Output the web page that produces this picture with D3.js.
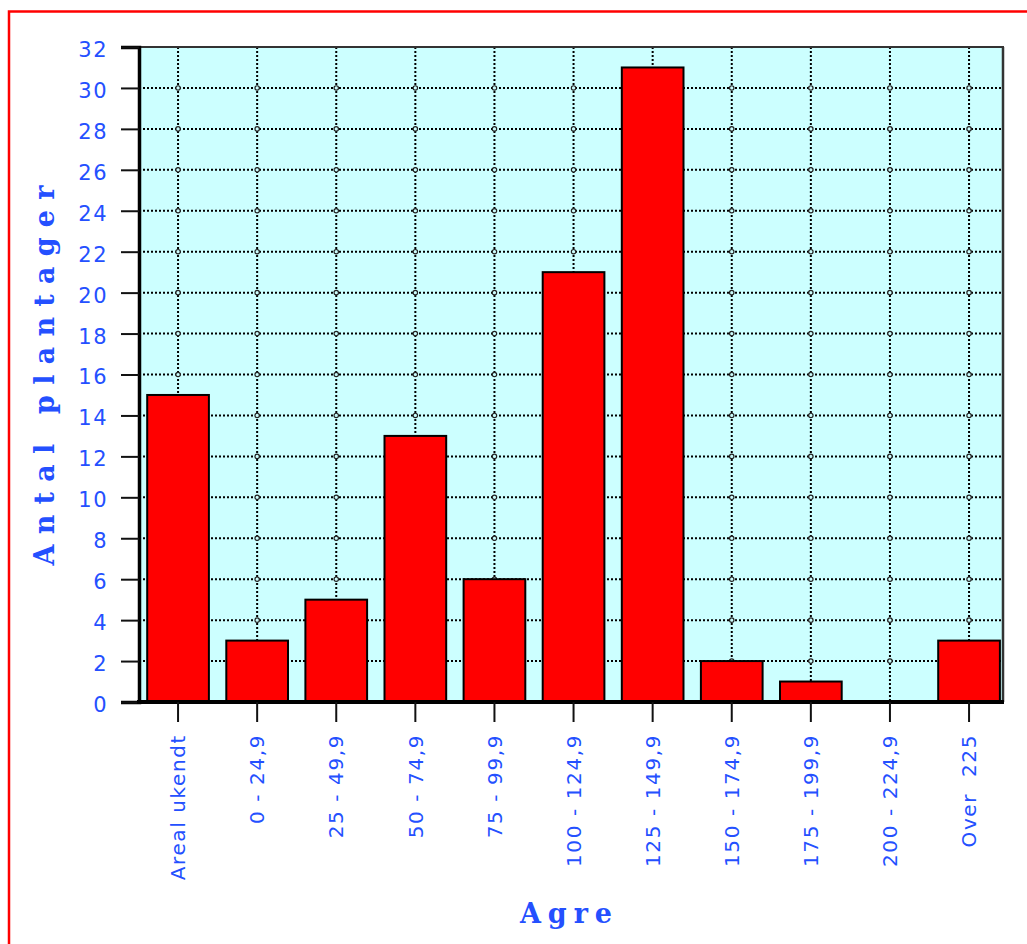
<!DOCTYPE html>
<html>
<head>
<meta charset="utf-8">
<script src="https://cdn.jsdelivr.net/npm/d3@7"></script>
<style>
  html, body { margin: 0; padding: 0; background: #ffffff; }
  svg { display: block; }
</style>
</head>
<body>
<svg id="chart" width="1027" height="944"></svg>
<script>
// ---- data ----
const categories = ["Areal ukendt", "0 - 24,9", "25 - 49,9", "50 - 74,9", "75 - 99,9",
  "100 - 124,9", "125 - 149,9", "150 - 174,9", "175 - 199,9", "200 - 224,9", "Over  225"];
const values = [15, 3, 5, 13, 6, 21, 31, 2, 1, 0, 3];
const yTicks = d3.range(0, 33, 2);
const yTitle = "Antal plantager";
const xTitle = "Agre";

// ---- layout ----
const svg = d3.select("#chart");
const plot = { left: 139, right: 1003, top: 47, bottom: 702 };
const blue = "#2450ff";

const x = d3.scaleBand().domain(categories).range([138.5, 1008.6]).paddingInner(0.22).paddingOuter(0.11);
const y = d3.scaleLinear().domain([0, 32]).range([plot.bottom, plot.top]);
const cx = d => x(d) + x.bandwidth() / 2;

// red outer frame
svg.append("rect").attr("x", 9).attr("y", 11.5).attr("width", 1100).attr("height", 1100)
  .attr("fill", "none").attr("stroke", "#ff0000").attr("stroke-width", 2.5);

// plot background
svg.append("rect").attr("x", plot.left).attr("y", plot.top)
  .attr("width", plot.right - plot.left).attr("height", plot.bottom - plot.top)
  .attr("fill", "#ccffff");

// grid lines
const inner = yTicks.filter(t => t > 0 && t < 32);
const grid = svg.append("g").attr("stroke", "#000").attr("stroke-width", 2).attr("stroke-dasharray", "2,2");
grid.selectAll("line.h").data(inner).join("line")
  .attr("x1", plot.left).attr("x2", plot.right)
  .attr("y1", d => y(d)).attr("y2", d => y(d));
grid.selectAll("line.v").data(categories).join("line")
  .attr("x1", d => cx(d)).attr("x2", d => cx(d))
  .attr("y1", plot.top).attr("y2", plot.bottom);

// small circles at grid intersections
const inter = [];
categories.forEach(c => inner.forEach(t => inter.push([c, t])));
svg.append("g").selectAll("circle").data(inter).join("circle")
  .attr("cx", d => cx(d[0])).attr("cy", d => y(d[1])).attr("r", 2.2)
  .attr("fill", "#ccffff").attr("stroke", "#222").attr("stroke-width", 1.2);

// bars
svg.append("g").selectAll("rect").data(categories.map((c, i) => ({ c, v: values[i] })).filter(d => d.v > 0))
  .join("rect")
  .attr("x", d => x(d.c)).attr("width", x.bandwidth())
  .attr("y", d => y(d.v)).attr("height", d => y(0) - y(d.v))
  .attr("fill", "#ff0000").attr("stroke", "#000").attr("stroke-width", 2);

// plot frame (top and right)
svg.append("line").attr("x1", plot.left).attr("x2", plot.right + 1).attr("y1", plot.top).attr("y2", plot.top)
  .attr("stroke", "#333").attr("stroke-width", 2);
svg.append("line").attr("x1", plot.right).attr("x2", plot.right).attr("y1", plot.top).attr("y2", plot.bottom)
  .attr("stroke", "#333").attr("stroke-width", 2.5);

// y axis
const yAxis = svg.append("g").attr("transform", `translate(${plot.left},0)`)
  .call(d3.axisLeft(y).tickValues(yTicks).tickSize(18).tickPadding(13).tickFormat(d3.format("d")));
yAxis.select(".domain").attr("stroke", "#000").attr("stroke-width", 3.5);
yAxis.selectAll(".tick line").attr("stroke", "#111").attr("stroke-width", 2);
yAxis.selectAll(".tick text").attr("fill", blue)
  .attr("font-family", "DejaVu Sans, sans-serif").attr("font-size", 21)
  .attr("letter-spacing", 1.5).attr("dy", "0.45em");

// x axis
const xAxis = svg.append("g").attr("transform", `translate(0,${plot.bottom})`)
  .call(d3.axisBottom(x).tickSize(20).tickSizeOuter(0).tickPadding(0));
xAxis.select(".domain").attr("stroke", "#000").attr("stroke-width", 4)
  .attr("d", `M${plot.left - 2},0H${plot.right + 1}`);
xAxis.selectAll(".tick line").attr("stroke", "#111").attr("stroke-width", 2);
xAxis.selectAll(".tick text").attr("fill", blue)
  .attr("font-family", "DejaVu Sans, sans-serif").attr("font-size", 20)
  .attr("letter-spacing", 1.6)
  .style("white-space", "pre")
  .attr("text-anchor", "end")
  .attr("transform", "translate(0,32) rotate(-90)")
  .attr("dy", "0.36em").attr("dx", 0).attr("y", 0).attr("x", 0);

// axis titles
svg.append("text")
  .attr("transform", `translate(54,${(185 + 566) / 2}) rotate(-90)`)
  .attr("text-anchor", "middle")
  .attr("font-family", "DejaVu Serif, serif").attr("font-weight", "bold").attr("font-size", 27)
  .attr("fill", blue).attr("textLength", 380).attr("lengthAdjust", "spacing")
  .text(yTitle);

svg.append("text")
  .attr("x", 566).attr("y", 923)
  .attr("text-anchor", "middle")
  .attr("font-family", "DejaVu Serif, serif").attr("font-weight", "bold").attr("font-size", 27)
  .attr("fill", blue).attr("textLength", 92).attr("lengthAdjust", "spacing")
  .text(xTitle);
</script>
</body>
</html>
